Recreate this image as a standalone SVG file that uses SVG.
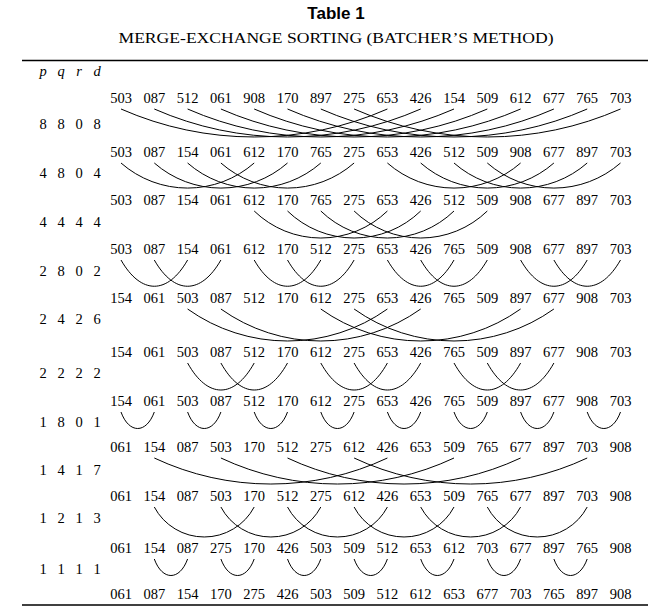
<svg xmlns="http://www.w3.org/2000/svg" width="671" height="615" viewBox="0 0 671 615">
<style>
text{fill:#000}
.t{font-family:"Liberation Sans",Arial,sans-serif;font-weight:bold;font-size:17px;text-anchor:middle}
.s{font-family:"Liberation Serif","Times New Roman",serif;font-size:14px;text-anchor:middle}
.n{font-family:"Liberation Serif","Times New Roman",serif;font-size:14.5px;text-anchor:middle}
.h{font-family:"Liberation Serif","Times New Roman",serif;font-size:14.5px;font-style:italic;text-anchor:middle}
.rule{stroke:#000;stroke-width:1.3}
#connectors path{fill:none;stroke:#000;stroke-width:1}
</style>
<rect width="671" height="615" fill="#fff"/>
<g id="title">
<text class="t" x="336" y="19">Table 1</text>
<text class="s" x="336" y="43" textLength="435" lengthAdjust="spacingAndGlyphs">MERGE-EXCHANGE SORTING (BATCHER’S METHOD)</text>
</g>
<line class="rule" x1="22" y1="60.5" x2="648" y2="60.5"/>
<line class="rule" x1="22" y1="605" x2="648" y2="605"/>
<g id="header"><text class="h" y="76"><tspan x="43">p</tspan><tspan x="61">q</tspan><tspan x="79">r</tspan><tspan x="97">d</tspan></text></g>
<g id="labels" class="n">
<text class="n" y="129"><tspan x="43">8</tspan><tspan x="61">8</tspan><tspan x="79">0</tspan><tspan x="97">8</tspan></text>
<text class="n" y="178"><tspan x="43">4</tspan><tspan x="61">8</tspan><tspan x="79">0</tspan><tspan x="97">4</tspan></text>
<text class="n" y="227"><tspan x="43">4</tspan><tspan x="61">4</tspan><tspan x="79">4</tspan><tspan x="97">4</tspan></text>
<text class="n" y="276"><tspan x="43">2</tspan><tspan x="61">8</tspan><tspan x="79">0</tspan><tspan x="97">2</tspan></text>
<text class="n" y="324"><tspan x="43">2</tspan><tspan x="61">4</tspan><tspan x="79">2</tspan><tspan x="97">6</tspan></text>
<text class="n" y="378"><tspan x="43">2</tspan><tspan x="61">2</tspan><tspan x="79">2</tspan><tspan x="97">2</tspan></text>
<text class="n" y="427"><tspan x="43">1</tspan><tspan x="61">8</tspan><tspan x="79">0</tspan><tspan x="97">1</tspan></text>
<text class="n" y="475"><tspan x="43">1</tspan><tspan x="61">4</tspan><tspan x="79">1</tspan><tspan x="97">7</tspan></text>
<text class="n" y="523"><tspan x="43">1</tspan><tspan x="61">2</tspan><tspan x="79">1</tspan><tspan x="97">3</tspan></text>
<text class="n" y="574"><tspan x="43">1</tspan><tspan x="61">1</tspan><tspan x="79">1</tspan><tspan x="97">1</tspan></text>
</g>
<g id="row0"><text class="n" y="103"><tspan x="121">503</tspan><tspan x="154.3">087</tspan><tspan x="187.6">512</tspan><tspan x="220.9">061</tspan><tspan x="254.2">908</tspan><tspan x="287.5">170</tspan><tspan x="320.8">897</tspan><tspan x="354.1">275</tspan><tspan x="387.4">653</tspan><tspan x="420.7">426</tspan><tspan x="454">154</tspan><tspan x="487.3">509</tspan><tspan x="520.6">612</tspan><tspan x="553.9">677</tspan><tspan x="587.2">765</tspan><tspan x="620.5">703</tspan></text></g>
<g id="row1"><text class="n" y="157"><tspan x="121">503</tspan><tspan x="154.3">087</tspan><tspan x="187.6">154</tspan><tspan x="220.9">061</tspan><tspan x="254.2">612</tspan><tspan x="287.5">170</tspan><tspan x="320.8">765</tspan><tspan x="354.1">275</tspan><tspan x="387.4">653</tspan><tspan x="420.7">426</tspan><tspan x="454">512</tspan><tspan x="487.3">509</tspan><tspan x="520.6">908</tspan><tspan x="553.9">677</tspan><tspan x="587.2">897</tspan><tspan x="620.5">703</tspan></text></g>
<g id="row2"><text class="n" y="205"><tspan x="121">503</tspan><tspan x="154.3">087</tspan><tspan x="187.6">154</tspan><tspan x="220.9">061</tspan><tspan x="254.2">612</tspan><tspan x="287.5">170</tspan><tspan x="320.8">765</tspan><tspan x="354.1">275</tspan><tspan x="387.4">653</tspan><tspan x="420.7">426</tspan><tspan x="454">512</tspan><tspan x="487.3">509</tspan><tspan x="520.6">908</tspan><tspan x="553.9">677</tspan><tspan x="587.2">897</tspan><tspan x="620.5">703</tspan></text></g>
<g id="row3"><text class="n" y="254"><tspan x="121">503</tspan><tspan x="154.3">087</tspan><tspan x="187.6">154</tspan><tspan x="220.9">061</tspan><tspan x="254.2">612</tspan><tspan x="287.5">170</tspan><tspan x="320.8">512</tspan><tspan x="354.1">275</tspan><tspan x="387.4">653</tspan><tspan x="420.7">426</tspan><tspan x="454">765</tspan><tspan x="487.3">509</tspan><tspan x="520.6">908</tspan><tspan x="553.9">677</tspan><tspan x="587.2">897</tspan><tspan x="620.5">703</tspan></text></g>
<g id="row4"><text class="n" y="303"><tspan x="121">154</tspan><tspan x="154.3">061</tspan><tspan x="187.6">503</tspan><tspan x="220.9">087</tspan><tspan x="254.2">512</tspan><tspan x="287.5">170</tspan><tspan x="320.8">612</tspan><tspan x="354.1">275</tspan><tspan x="387.4">653</tspan><tspan x="420.7">426</tspan><tspan x="454">765</tspan><tspan x="487.3">509</tspan><tspan x="520.6">897</tspan><tspan x="553.9">677</tspan><tspan x="587.2">908</tspan><tspan x="620.5">703</tspan></text></g>
<g id="row5"><text class="n" y="357"><tspan x="121">154</tspan><tspan x="154.3">061</tspan><tspan x="187.6">503</tspan><tspan x="220.9">087</tspan><tspan x="254.2">512</tspan><tspan x="287.5">170</tspan><tspan x="320.8">612</tspan><tspan x="354.1">275</tspan><tspan x="387.4">653</tspan><tspan x="420.7">426</tspan><tspan x="454">765</tspan><tspan x="487.3">509</tspan><tspan x="520.6">897</tspan><tspan x="553.9">677</tspan><tspan x="587.2">908</tspan><tspan x="620.5">703</tspan></text></g>
<g id="row6"><text class="n" y="406"><tspan x="121">154</tspan><tspan x="154.3">061</tspan><tspan x="187.6">503</tspan><tspan x="220.9">087</tspan><tspan x="254.2">512</tspan><tspan x="287.5">170</tspan><tspan x="320.8">612</tspan><tspan x="354.1">275</tspan><tspan x="387.4">653</tspan><tspan x="420.7">426</tspan><tspan x="454">765</tspan><tspan x="487.3">509</tspan><tspan x="520.6">897</tspan><tspan x="553.9">677</tspan><tspan x="587.2">908</tspan><tspan x="620.5">703</tspan></text></g>
<g id="row7"><text class="n" y="452"><tspan x="121">061</tspan><tspan x="154.3">154</tspan><tspan x="187.6">087</tspan><tspan x="220.9">503</tspan><tspan x="254.2">170</tspan><tspan x="287.5">512</tspan><tspan x="320.8">275</tspan><tspan x="354.1">612</tspan><tspan x="387.4">426</tspan><tspan x="420.7">653</tspan><tspan x="454">509</tspan><tspan x="487.3">765</tspan><tspan x="520.6">677</tspan><tspan x="553.9">897</tspan><tspan x="587.2">703</tspan><tspan x="620.5">908</tspan></text></g>
<g id="row8"><text class="n" y="501"><tspan x="121">061</tspan><tspan x="154.3">154</tspan><tspan x="187.6">087</tspan><tspan x="220.9">503</tspan><tspan x="254.2">170</tspan><tspan x="287.5">512</tspan><tspan x="320.8">275</tspan><tspan x="354.1">612</tspan><tspan x="387.4">426</tspan><tspan x="420.7">653</tspan><tspan x="454">509</tspan><tspan x="487.3">765</tspan><tspan x="520.6">677</tspan><tspan x="553.9">897</tspan><tspan x="587.2">703</tspan><tspan x="620.5">908</tspan></text></g>
<g id="row9"><text class="n" y="553"><tspan x="121">061</tspan><tspan x="154.3">154</tspan><tspan x="187.6">087</tspan><tspan x="220.9">275</tspan><tspan x="254.2">170</tspan><tspan x="287.5">426</tspan><tspan x="320.8">503</tspan><tspan x="354.1">509</tspan><tspan x="387.4">512</tspan><tspan x="420.7">653</tspan><tspan x="454">612</tspan><tspan x="487.3">703</tspan><tspan x="520.6">677</tspan><tspan x="553.9">897</tspan><tspan x="587.2">765</tspan><tspan x="620.5">908</tspan></text></g>
<g id="row10"><text class="n" y="599"><tspan x="121">061</tspan><tspan x="154.3">087</tspan><tspan x="187.6">154</tspan><tspan x="220.9">170</tspan><tspan x="254.2">275</tspan><tspan x="287.5">426</tspan><tspan x="320.8">503</tspan><tspan x="354.1">509</tspan><tspan x="387.4">512</tspan><tspan x="420.7">612</tspan><tspan x="454">653</tspan><tspan x="487.3">677</tspan><tspan x="520.6">703</tspan><tspan x="553.9">765</tspan><tspan x="587.2">897</tspan><tspan x="620.5">908</tspan></text></g>
<g id="connectors">
<path d="M121 109a331 331 0 0 0 266.4 0M154.3 109a331 331 0 0 0 266.4 0M187.6 109a331 331 0 0 0 266.4 0M220.9 109a331 331 0 0 0 266.4 0M254.2 109a331 331 0 0 0 266.4 0M287.5 109a331 331 0 0 0 266.4 0M320.8 109a331 331 0 0 0 266.4 0M354.1 109a331 331 0 0 0 266.4 0"/>
<path d="M121 163a101 101 0 0 0 133.2 0M154.3 163a101 101 0 0 0 133.2 0M187.6 163a101 101 0 0 0 133.2 0M220.9 163a101 101 0 0 0 133.2 0M387.4 163a101 101 0 0 0 133.2 0M420.7 163a101 101 0 0 0 133.2 0M454 163a101 101 0 0 0 133.2 0M487.3 163a101 101 0 0 0 133.2 0"/>
<path d="M254.2 211a95.6 95.6 0 0 0 133.2 0M287.5 211a95.6 95.6 0 0 0 133.2 0M320.8 211a95.6 95.6 0 0 0 133.2 0M354.1 211a95.6 95.6 0 0 0 133.2 0"/>
<path d="M121 260c20 35 46.6 35 66.6 0M154.3 260c20 35 46.6 35 66.6 0M254.2 260c20 35 46.6 35 66.6 0M287.5 260c20 35 46.6 35 66.6 0M387.4 260c20 35 46.6 35 66.6 0M420.7 260c20 35 46.6 35 66.6 0M520.6 260c20 35 46.6 35 66.6 0M553.9 260c20 35 46.6 35 66.6 0"/>
<path d="M187.6 309a172 172 0 0 0 199.8 0M220.9 309a172 172 0 0 0 199.8 0M320.8 309a172 172 0 0 0 199.8 0M354.1 309a172 172 0 0 0 199.8 0"/>
<path d="M187.6 363c20 36 46.6 36 66.6 0M220.9 363c20 36 46.6 36 66.6 0M320.8 363c20 36 46.6 36 66.6 0M354.1 363c20 36 46.6 36 66.6 0M454 363c20 36 46.6 36 66.6 0M487.3 363c20 36 46.6 36 66.6 0"/>
<path d="M121 412c8 22 25.3 22 33.3 0M187.6 412c8 22 25.3 22 33.3 0M254.2 412c8 22 25.3 22 33.3 0M320.8 412c8 22 25.3 22 33.3 0M387.4 412c8 22 25.3 22 33.3 0M454 412c8 22 25.3 22 33.3 0M520.6 412c8 22 25.3 22 33.3 0M587.2 412c8 22 25.3 22 33.3 0"/>
<path d="M154.3 458a274 274 0 0 0 233.1 0M220.9 458a274 274 0 0 0 233.1 0M287.5 458a274 274 0 0 0 233.1 0M354.1 458a274 274 0 0 0 233.1 0"/>
<path d="M154.3 507a56.6 56.6 0 0 0 99.9 0M220.9 507a56.6 56.6 0 0 0 99.9 0M287.5 507a56.6 56.6 0 0 0 99.9 0M354.1 507a56.6 56.6 0 0 0 99.9 0M420.7 507a56.6 56.6 0 0 0 99.9 0M487.3 507a56.6 56.6 0 0 0 99.9 0"/>
<path d="M154.3 559c8 22 25.3 22 33.3 0M220.9 559c8 22 25.3 22 33.3 0M287.5 559c8 22 25.3 22 33.3 0M354.1 559c8 22 25.3 22 33.3 0M420.7 559c8 22 25.3 22 33.3 0M487.3 559c8 22 25.3 22 33.3 0M553.9 559c8 22 25.3 22 33.3 0"/>
</g>
</svg>
